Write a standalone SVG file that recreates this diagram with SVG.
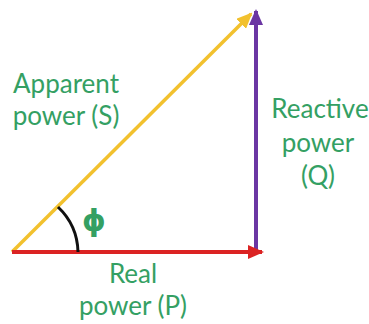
<svg xmlns="http://www.w3.org/2000/svg" width="369" height="324" viewBox="0 0 369 324">
<style>
.lbl{font-family:Lato,"Open Sans","Liberation Sans",sans-serif;font-size:26px;fill:#34a063;text-anchor:middle}
</style>
<defs>
<marker id="ay" markerUnits="userSpaceOnUse" markerWidth="16" markerHeight="14" refX="14" refY="7" orient="auto"><path d="M0,0 L16,7 L0,14 Z" fill="#f2c12e"/></marker>
<marker id="ap" markerUnits="userSpaceOnUse" markerWidth="16" markerHeight="14" refX="14" refY="7" orient="auto"><path d="M0,0 L16,7 L0,14 Z" fill="#6b36a3"/></marker>
<marker id="ar" markerUnits="userSpaceOnUse" markerWidth="16" markerHeight="14" refX="14" refY="7" orient="auto"><path d="M0,0 L16,7 L0,14 Z" fill="#db2323"/></marker>
</defs>
<rect width="369" height="324" fill="#ffffff"/>
<g id="connectors">
<line x1="12" y1="252" x2="251" y2="14" stroke="#f2c12e" stroke-width="3.5" marker-end="url(#ay)"/>
<line x1="256" y1="252" x2="256" y2="11" stroke="#6b36a3" stroke-width="4" marker-end="url(#ap)"/>
<line x1="12" y1="252" x2="262" y2="252" stroke="#db2323" stroke-width="4" marker-end="url(#ar)"/>
<path d="M58,207 A64,64 0 0 1 78,252" fill="none" stroke="#111111" stroke-width="3"/>
</g>
<g id="apparent"><text class="lbl" x="66" y="93">Apparent</text><text class="lbl" x="66" y="125">power (S)</text></g>
<g id="reactive"><text class="lbl" x="320" y="118">Reactive</text><text class="lbl" x="318" y="152">power</text><text class="lbl" x="318" y="185">(Q)</text></g>
<g id="real"><text class="lbl" x="133" y="283">Real</text><text class="lbl" x="133" y="315">power (P)</text></g>
<g id="phi"><text class="lbl" x="94" y="231" style="font-size:30px;font-weight:bold;font-family:'DejaVu Sans',sans-serif">ϕ</text></g>
</svg>
